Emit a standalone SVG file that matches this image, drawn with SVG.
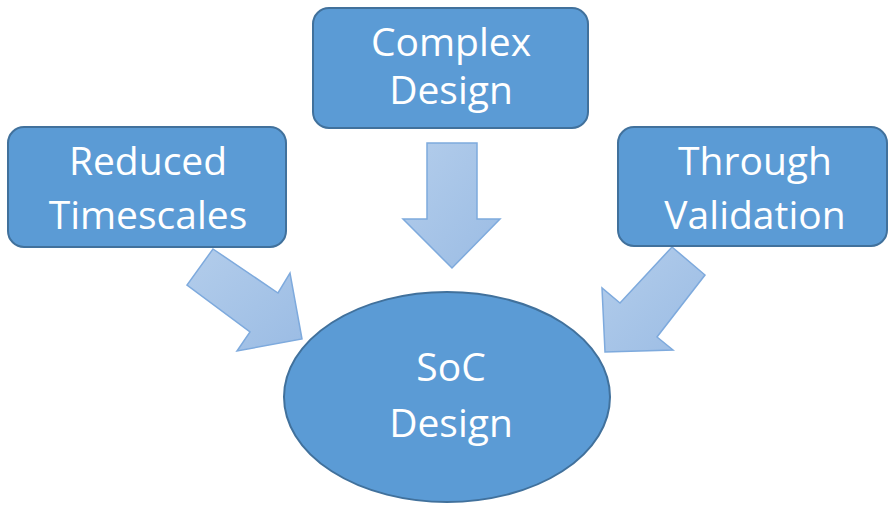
<svg xmlns="http://www.w3.org/2000/svg" width="889" height="507" viewBox="0 0 889 507">
  <style>
    .box { fill: #5b9bd5; stroke: #41719c; stroke-width: 2; }
    .arrow { fill: url(#arrowFill); stroke: #7eaadd; stroke-width: 1.5; stroke-linejoin: miter; }
    .label { fill: #ffffff; font-family: "Open Sans", "Liberation Sans", sans-serif; font-size: 39px; text-anchor: middle; }
  </style>
  <defs>
    <linearGradient id="arrowFill" x1="0" y1="0" x2="1" y2="1">
      <stop offset="0" stop-color="#b3cdeb"/>
      <stop offset="1" stop-color="#9bbce4"/>
    </linearGradient>
  </defs>
  <rect width="889" height="507" fill="#ffffff"/>

  <!-- block arrows pointing into the centre -->
  <g id="connectors">
    <polygon class="arrow" points="427,143 477,143 477,219 500,219 452,268 403,219 427,219"/>
    <polygon class="arrow" points="213,249 278,293 290,273 302,339 237,351 250,332 187,285"/>
    <polygon class="arrow" points="672,247 705,275 657,337 673,350 605,352 602,288 620,303"/>
  </g>

  <g id="node-complex">
    <rect class="box" x="313" y="8" width="275" height="120" rx="16"/>
    <text class="label" x="451" y="56">Complex</text>
    <text class="label" x="451" y="104">Design</text>
  </g>

  <g id="node-reduced">
    <rect class="box" x="8" y="127" width="278" height="120" rx="16"/>
    <text class="label" x="148" y="175">Reduced</text>
    <text class="label" x="148" y="229">Timescales</text>
  </g>

  <g id="node-through">
    <rect class="box" x="618" y="127" width="269" height="119" rx="16"/>
    <text class="label" x="755" y="175">Through</text>
    <text class="label" x="755" y="229">Validation</text>
  </g>

  <g id="node-soc">
    <ellipse class="box" cx="447" cy="397" rx="163" ry="105"/>
    <text class="label" x="451" y="381">SoC</text>
    <text class="label" x="451" y="437">Design</text>
  </g>
</svg>
